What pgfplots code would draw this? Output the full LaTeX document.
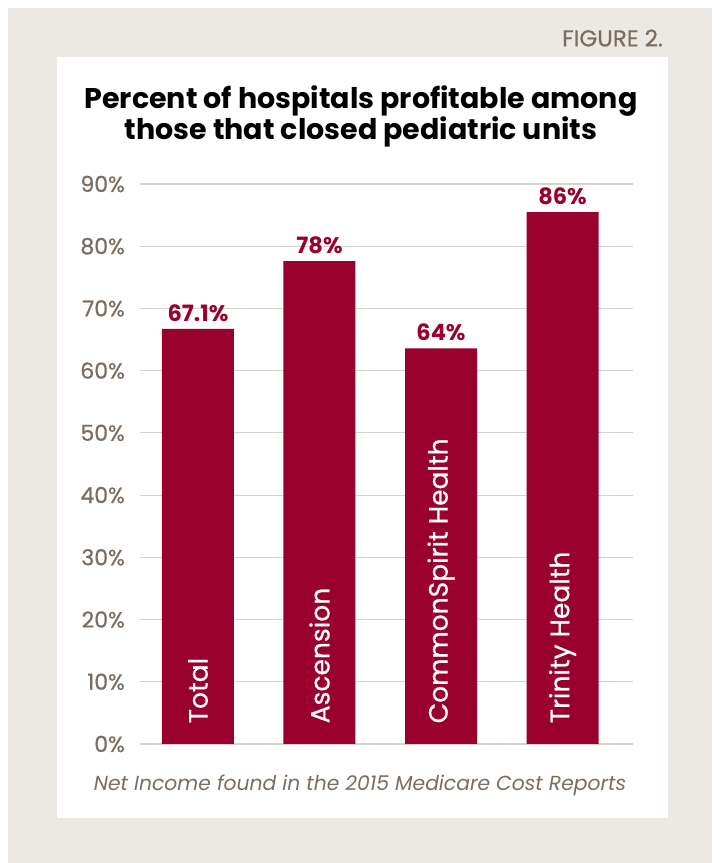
\documentclass[border=0pt]{standalone}
\usepackage{fontspec}
\setmainfont{Poppins}
\newfontfamily\medfont[FakeBold=0.6]{Poppins}
\usepackage{pgfplots}
\pgfplotsset{compat=1.18}
\definecolor{beige}{HTML}{ECE8E3}
\definecolor{barred}{HTML}{99002E}
\definecolor{tickbrown}{HTML}{7A6E62}
\definecolor{gridc}{HTML}{D8D2CB}
\begin{document}
\begin{tikzpicture}[x=1pt,y=1pt]
% background (pixel coords: x, 863-y)
\fill[white] (0,0) rectangle (720,863);
\fill[beige] (8,0) rectangle (712,855);
\fill[white] (57,45) rectangle (668,806);
\node[anchor=east, text=tickbrown, inner sep=0pt, font=\medfont\fontsize{23}{26}\selectfont] at (663,825) {FIGURE 2.};
\node[align=center, inner sep=0pt, font=\fontsize{28.5}{31}\bfseries\selectfont] at (361,747) {Percent of hospitals profitable among\\those that closed pediatric units};
\node[inner sep=0pt, text=tickbrown, font=\fontsize{20.3}{24}\itshape\selectfont] at (360,78) {Net Income found in the 2015 Medicare Cost Reports};
\begin{axis}[
  at={(140pt,119pt)}, anchor=south west,
  scale only axis, width=493pt, height=560pt,
  xmin=-0.477, xmax=3.58, ymin=0, ymax=90,
  axis line style={draw=none},
  major tick length=0pt,
  xtick=\empty,
  ytick={0,10,...,90},
  ymajorgrids, grid style={gridc, line width=1.2pt},
  /pgf/number format/assume math mode=true,
  yticklabel={\pgfmathprintnumber{\tick}\%},
  yticklabel style={text=tickbrown, inner sep=0pt, xshift=-15pt, font=\medfont\fontsize{22}{26}\selectfont},
  ybar, bar width=72pt,
  nodes near coords, point meta=explicit symbolic,
  every node near coord/.append style={text=barred, inner sep=0pt, yshift=7pt, font=\fontsize{22.5}{26}\bfseries\selectfont},
  clip=false,
]
\addplot[fill=barred, draw=none] coordinates {
  (0,66.7) [67.1\%]
  (1,77.6) [78\%]
  (2,63.6) [64\%]
  (3,85.5) [86\%]
};
\foreach \i/\lab in {0/Total,1/Ascension,2/CommonSpirit Health,3/Trinity Health}{
  \edef\temp{\noexpand\node[rotate=90, anchor=west, inner sep=0pt, text=white, font=\noexpand\medfont\noexpand\fontsize{26.5}{30}\noexpand\selectfont] at (axis cs:\i,3.3) {\lab};}
  \temp
}
\end{axis}
\end{tikzpicture}
\end{document}
